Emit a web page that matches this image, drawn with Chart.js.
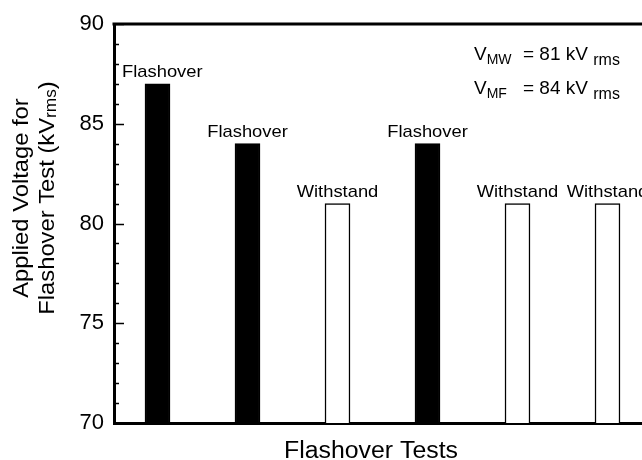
<!DOCTYPE html>
<html>
<head>
<meta charset="utf-8">
<script src="https://cdn.jsdelivr.net/npm/chart.js@4/dist/chart.umd.min.js"></script>
<style>
  html, body { margin: 0; padding: 0; background: #fff; overflow: hidden; }
  #wrap { width: 642px; height: 460px; }
</style>
</head>
<body>
<div id="wrap"><canvas id="chart" width="642" height="460"></canvas></div>
<script>
// chart data
const testNumbers = [1, 2, 3, 4, 5, 6];
const appliedVoltages = [87, 84, 81, 84, 81, 81];
const outcomes = ["Flashover", "Flashover", "Withstand", "Flashover", "Withstand", "Withstand"];
const yTickValues = [70, 75, 80, 85, 90];
const legendNames = ["MW", "MF"];
const legendValues = ["= 81 kV", "= 84 kV"];

const FONT = '"Liberation Sans", Arial, Helvetica, sans-serif';
const STRETCH = 1.08;

// text in the original is a little wider than Arial, so stretch it a bit
function drawText(ctx, text, x, y, size, align, sx) {
  ctx.save();
  ctx.font = size + "px " + FONT;
  const w = ctx.measureText(text).width * sx;
  let left = x;
  if (align === "center") left = x - w / 2;
  if (align === "right") left = x - w;
  ctx.translate(left, y);
  ctx.scale(sx, 1);
  ctx.textAlign = "left";
  ctx.fillStyle = "#000";
  ctx.fillText(text, 0, 0);
  ctx.restore();
  return w;
}

const decorations = {
  id: "decorations",
  afterDraw(chart) {
    const ctx = chart.ctx;
    const area = chart.chartArea;
    const yScale = chart.scales.y;

    ctx.save();
    ctx.strokeStyle = "#000";

    // top frame line
    ctx.lineWidth = 3;
    ctx.beginPath();
    ctx.moveTo(area.left - 1.5, area.top);
    ctx.lineTo(chart.width, area.top);
    ctx.stroke();

    // inward ticks, long ones at labelled values
    ctx.lineWidth = 1.5;
    for (let v = yScale.min; v <= yScale.max; v++) {
      const py = Math.round(yScale.getPixelForValue(v)) + 0.5;
      const len = yTickValues.includes(v) ? 10 : 5;
      ctx.beginPath();
      ctx.moveTo(area.left, py);
      ctx.lineTo(area.left + len, py);
      ctx.stroke();
    }
    ctx.restore();

    // labels above the bars
    const meta = chart.getDatasetMeta(0);
    meta.data.forEach((bar, i) => {
      ctx.save();
      ctx.font = "17px " + FONT;
      const w = ctx.measureText(outcomes[i]).width * STRETCH;
      ctx.restore();
      let cx = bar.x;
      if (cx - w / 2 < area.left + 8) cx = area.left + 8 + w / 2;
      drawText(ctx, outcomes[i], cx, bar.y - 7, 17, "center", STRETCH);
    });

    // x title
    drawText(ctx, "Flashover Tests", 371, 458, 23, "center", STRETCH);

    // y title, two lines, rotated
    ctx.save();
    ctx.translate(0, 198);
    ctx.rotate(-Math.PI / 2);
    ctx.textBaseline = "middle";
    drawText(ctx, "Applied Voltage for", 0, 22, 22, "center", STRETCH);
    ctx.font = "22px " + FONT;
    const a = ctx.measureText("Flashover Test (kV").width * STRETCH;
    ctx.font = "16px " + FONT;
    const b = ctx.measureText("rms").width * STRETCH;
    ctx.font = "22px " + FONT;
    const c = ctx.measureText(")").width * STRETCH;
    let sx = -(a + b + c) / 2;
    drawText(ctx, "Flashover Test (kV", sx, 48, 22, "left", STRETCH);
    drawText(ctx, "rms", sx + a, 52, 16, "left", STRETCH);
    drawText(ctx, ")", sx + a + b, 48, 22, "left", STRETCH);
    ctx.restore();

    // legend text with subscripts
    legendNames.forEach((name, i) => {
      const base = 60 + i * 34;
      const vw = drawText(ctx, "V", 474, base, 19, "left", 1);
      drawText(ctx, name, 474 + vw, base + 4, 14, "left", 1);
      const ew = drawText(ctx, legendValues[i] + " ", 523, base, 19, "left", 1);
      drawText(ctx, "rms", 523 + ew, base + 5, 16, "left", 1);
    });
  }
};

const xMin = 0.5167;
const xMax = xMin + (642 - 114) / 90;

new Chart(document.getElementById("chart"), {
  type: "bar",
  data: {
    datasets: [{
      data: testNumbers.map((t, i) => ({ x: t, y: appliedVoltages[i] })),
      backgroundColor: outcomes.map(o => o === "Flashover" ? "#000" : "#fff"),
      borderColor: "#000",
      borderWidth: 1.5,
      barThickness: 25
    }]
  },
  options: {
    responsive: false,
    animation: false,
    layout: { padding: { top: 24, left: 0, right: 0, bottom: 0 } },
    plugins: {
      legend: { display: false },
      tooltip: { enabled: false }
    },
    scales: {
      x: {
        type: "linear",
        min: xMin,
        max: xMax,
        offset: false,
        ticks: { display: false },
        grid: { display: false },
        border: { display: true, width: 3, color: "#000" },
        afterFit(scale) { scale.height = 37; }
      },
      y: {
        min: 70,
        max: 90,
        ticks: {
          stepSize: 5,
          color: "#000",
          padding: 10,
          font: { family: FONT, size: 22 }
        },
        grid: { display: false, drawTicks: false },
        border: { display: true, width: 3, color: "#000" },
        afterFit(scale) { scale.width = 114; }
      }
    }
  },
  plugins: [decorations]
});
</script>
</body>
</html>
